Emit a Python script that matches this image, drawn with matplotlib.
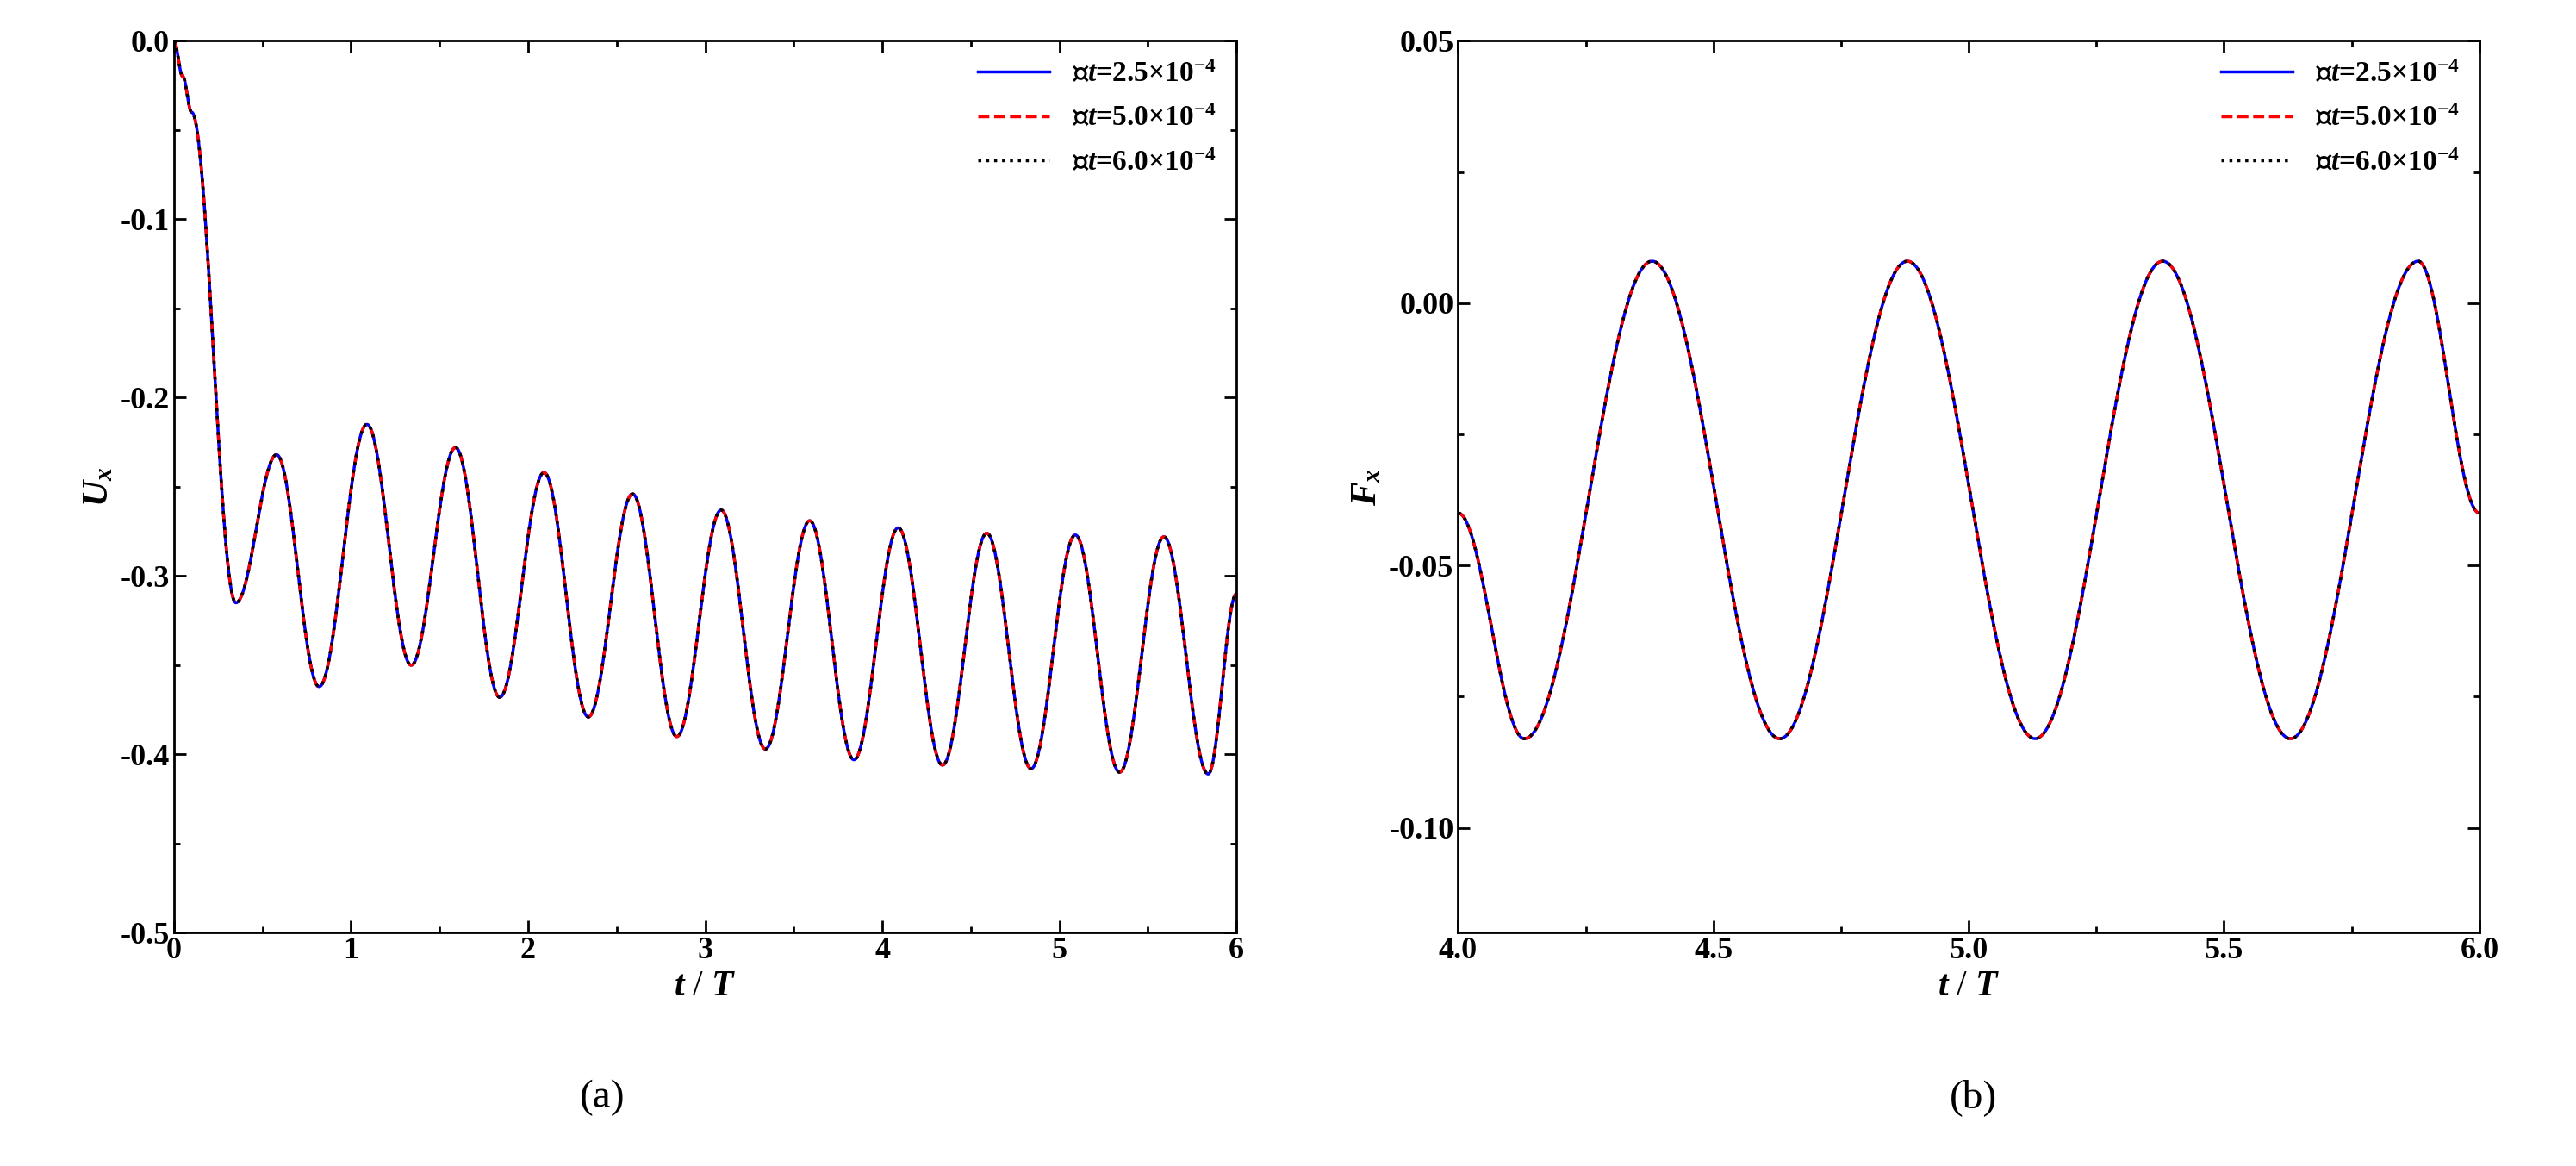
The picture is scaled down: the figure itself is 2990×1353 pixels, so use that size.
import numpy as np
import matplotlib
matplotlib.use('Agg')
import matplotlib.pyplot as plt
from matplotlib.ticker import AutoMinorLocator

plt.rcParams['font.family'] = ['Liberation Serif', 'DejaVu Serif']
plt.rcParams['font.weight'] = 'bold'
plt.rcParams['mathtext.fontset'] = 'custom'
plt.rcParams['mathtext.rm'] = 'Liberation Serif:bold'
plt.rcParams['mathtext.it'] = 'Liberation Serif:italic:bold'
plt.rcParams['mathtext.bf'] = 'Liberation Serif:bold'

# extrema, panel (a): U_x
ux_t = [0.0, 0.05, 0.10, 0.35, 0.58, 0.82, 1.09, 1.34, 1.59, 1.84, 2.09, 2.34, 2.59,
        2.84, 3.09, 3.34, 3.59, 3.84, 4.09, 4.34, 4.59, 4.84, 5.09, 5.34, 5.59, 5.84, 6.0]
ux_v = [0.0, -0.02, -0.04, -0.315, -0.232, -0.362, -0.215, -0.350, -0.228, -0.368, -0.242,
        -0.379, -0.254, -0.390, -0.263, -0.397, -0.269, -0.403, -0.273, -0.406, -0.276,
        -0.408, -0.277, -0.410, -0.278, -0.411, -0.31]

# extrema, panel (b): F_x
fx_t = [4.0, 4.13, 4.38, 4.63, 4.88, 5.13, 5.38, 5.63, 5.88, 6.0]
fx_v = [-0.040, -0.083, 0.008, -0.083, 0.008, -0.083, 0.008, -0.083, 0.008, -0.040]

labels = ['2.5', '5.0', '6.0']


def smooth(ts, vs, n=60):
    # half-cosine segments between consecutive read points
    xs, ys = [], []
    for i in range(len(ts) - 1):
        s = np.linspace(0, 1, n, endpoint=False)
        w = (1 - np.cos(np.pi * s)) / 2
        xs.append(ts[i] + (ts[i + 1] - ts[i]) * s)
        ys.append(vs[i] + (vs[i + 1] - vs[i]) * w)
    xs.append([ts[-1]])
    ys.append([vs[-1]])
    return np.concatenate(xs), np.concatenate(ys)


fig = plt.figure(figsize=(29.9, 13.53), dpi=100)
ax1 = fig.add_axes([0.0675, 0.20, 0.4125, 0.765])
ax2 = fig.add_axes([0.566, 0.20, 0.3965, 0.765])

styles = [dict(color='blue', ls='-'), dict(color='red', ls='--'), dict(color='black', ls=':')]

for ax, (ts, vs) in [(ax1, (ux_t, ux_v)), (ax2, (fx_t, fx_v))]:
    x, y = smooth(ts, vs)
    for lab, st in zip(labels, styles):
        ax.plot(x, y, lw=2.5, label='△' + r'$t$=' + lab + '×10$^{-4}$', **st)
    ax.legend(loc='upper right', frameon=False, fontsize=24, handlelength=2.5,
              borderaxespad=0.3, labelspacing=0.6)
    ax.tick_params(which='both', direction='in', top=True, right=True, labelsize=26,
                   width=2)
    ax.tick_params(which='major', length=10)
    ax.tick_params(which='minor', length=5)
    ax.xaxis.set_minor_locator(AutoMinorLocator(2))
    ax.yaxis.set_minor_locator(AutoMinorLocator(2))
    for sp in ax.spines.values():
        sp.set_linewidth(2)
    ax.set_xlabel(r'$t$ / $T$', fontsize=30)

ax1.set_xlim(0, 6)
ax1.set_ylim(-0.5, 0.0)
ax1.set_yticks([-0.5, -0.4, -0.3, -0.2, -0.1, 0.0])
ax1.set_yticklabels(['-0.5', '-0.4', '-0.3', '-0.2', '-0.1', '0.0'])
ax1.set_ylabel(r'$U_x$', fontsize=30)

ax2.set_xlim(4, 6)
ax2.set_ylim(-0.12, 0.05)
ax2.set_xticks([4.0, 4.5, 5.0, 5.5, 6.0])
ax2.set_yticks([-0.10, -0.05, 0.0, 0.05])
ax2.set_yticklabels(['-0.10', '-0.05', '0.00', '0.05'])
ax2.set_ylabel(r'$F_x$', fontsize=30)

fig.text(0.234, 0.05, '(a)', fontsize=34, ha='center', weight='normal')
fig.text(0.766, 0.05, '(b)', fontsize=34, ha='center', weight='normal')
fig.text(0.234, 0.05, '  a ', fontsize=34, ha='center', alpha=0)

fig.savefig('out.png', dpi=100)
